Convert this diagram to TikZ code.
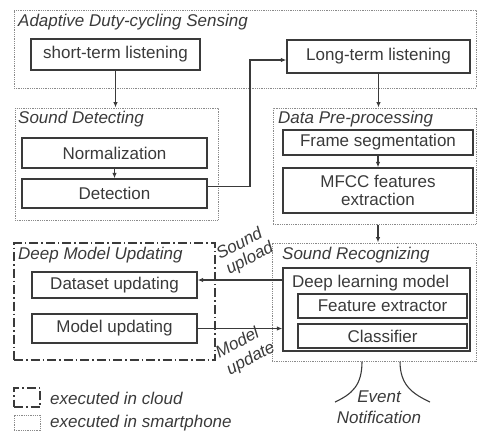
\documentclass[tikz,border=0pt]{standalone}
\usepackage{fontspec}
\setmainfont{Liberation Sans}
\usetikzlibrary{arrows.meta}
\definecolor{ink}{HTML}{3A3A3A}
\definecolor{dotc}{HTML}{8A8A8A}
\begin{document}
\begin{tikzpicture}[x=1pt,y=-1pt,
  font=\fontsize{17}{18}\selectfont, text=ink,
  solidbox/.style={draw=ink, line width=1.3pt, inner sep=0pt, align=center},
  phonebox/.style={draw=dotc, line width=1pt, dash pattern=on 1pt off 0.8pt, inner sep=0pt},
  cloudbox/.style={draw=ink, line width=1.1pt, dash pattern=on 9pt off 3pt on 1.5pt off 3pt, inner sep=0pt},
  lab/.style={font=\fontsize{17}{18}\selectfont\itshape, anchor=west, inner sep=0pt},
  rlab/.style={font=\fontsize{17}{18}\selectfont\itshape, rotate=28, inner sep=0pt},
  arr/.style={draw=ink, line width=1.1pt, -{Latex[length=5.5pt,width=4.5pt]}},
  plain/.style={draw=ink, line width=1.1pt}]
\useasboundingbox (0,0) rectangle (478,432);

% group boxes
\node[phonebox, minimum width=462pt, minimum height=78pt] (ads) at (245,49) {};
\node[phonebox, minimum width=203pt, minimum height=112pt] (sd) at (116.5,164) {};
\node[phonebox, minimum width=203pt, minimum height=116pt] (dpp) at (374.5,166) {};
\node[cloudbox, minimum width=201pt, minimum height=117pt] (dmu) at (114.5,301.5) {};
\node[phonebox, minimum width=204pt, minimum height=118pt] (sr) at (374,302) {};

% group labels
\node[lab] (adsl) at (18,22) {Adaptive Duty-cycling Sensing};
\node[lab] (sdl) at (18,119) {Sound Detecting};
\node[lab] (dppl) at (278,119) {Data Pre-processing};
\node[lab] (dmul) at (18,255) {Deep Model Updating};
\node[lab] (srl) at (282,255) {Sound Recognizing};

% solid boxes
\node[solidbox, minimum width=169pt, minimum height=31pt] (stl) at (115.5,54.5) {short-term listening};
\node[solidbox, minimum width=183pt, minimum height=33pt] (ltl) at (378.5,56.5) {Long-term listening};
\node[solidbox, minimum width=185pt, minimum height=30pt] (norm) at (114.5,153) {Normalization};
\node[solidbox, minimum width=185pt, minimum height=29pt] (det) at (114.5,193.5) {Detection};
\node[solidbox, minimum width=190pt, minimum height=25pt] (fs) at (378,142.5) {Frame segmentation};
\node[solidbox, minimum width=190pt, minimum height=45pt] (mfcc) at (378,190.5) {MFCC features\\extraction};
\node[solidbox, minimum width=165pt, minimum height=26pt] (dsu) at (114.5,285) {Dataset updating};
\node[solidbox, minimum width=165pt, minimum height=29pt] (mu) at (114.5,328.5) {Model updating};
\node[solidbox, minimum width=187pt, minimum height=83pt] (dlm) at (376.5,309.5) {};
\node[anchor=west, inner sep=0pt] (dlml) at (292,283) {Deep learning model};
\node[solidbox, minimum width=169pt, minimum height=24pt] (fe) at (382.5,306) {Feature extractor};
\node[solidbox, minimum width=169pt, minimum height=24pt] (cl) at (382.5,336) {Classifier};

% connectors
\draw[arr] (stl.south) -- (stl.south |- sd.north);
\draw[arr] (ltl.south) -- (ltl.south |- dpp.north);
\draw[arr] (norm.south) -- (det.north);
\draw[arr] (fs.south) -- (mfcc.north);
\draw[arr] (mfcc.south |- dpp.south) -- (mfcc.south |- sr.north);
\coordinate (turn) at (250,60);
\draw[arr] ([yshift=7pt]det.east) -| (turn) -- (turn -| ltl.west);
\coordinate (su) at ([yshift=29.5pt]dlm.west);
\draw[arr] (su) -- (su -| dsu.east);
\draw[arr] (mu.east) -- (mu.east -| dlm.west);

% rotated connector labels
\node[rlab] (sul1) at (239,243) {Sound};
\node[rlab] (sul2) at (250,259) {upload};
\node[rlab] (mul1) at (237,342) {Model};
\node[rlab] (mul2) at (251,359) {update};

% event notification
\draw[plain] ([xshift=-12pt]sr.south) .. controls ++(0,24) and (352,394) .. (335,402);
\draw[plain] ([xshift=26pt]sr.south) .. controls ++(0,24) and (413,394) .. (430,402);
\node[font=\fontsize{17}{21}\selectfont\itshape, align=center, inner sep=0pt] (evn) at (379,407) {Event\\Notification};

% legend
\node[cloudbox, minimum width=26pt, minimum height=19pt] (lgc) at (27,397.5) {};
\node[phonebox, minimum width=26pt, minimum height=15pt] (lgp) at (27,422.5) {};
\node[lab] (lgct) at (50,398) {executed in cloud};
\node[lab] (lgpt) at (50,423) {executed in smartphone};
\end{tikzpicture}
\end{document}
